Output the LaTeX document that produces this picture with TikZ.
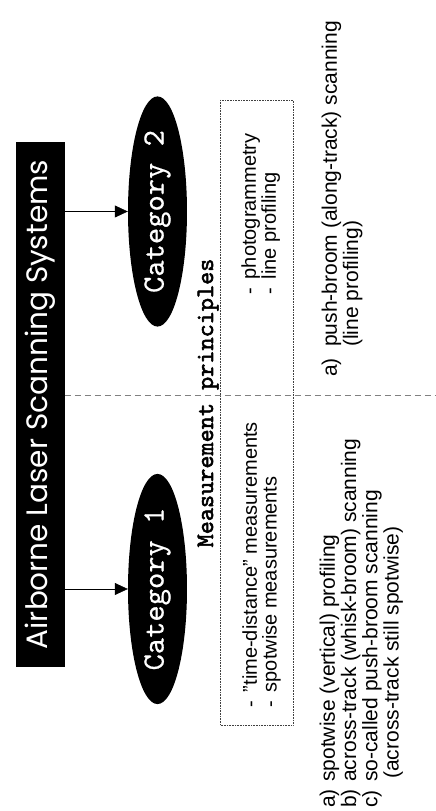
\documentclass[tikz,border=0pt]{standalone}
\usepackage{fontspec}
\setmainfont{Liberation Sans}
\newfontfamily\titlefont{Poppins}
\newfontfamily\catfont{lmmono10-regular.otf}[FakeBold=0.6]
\newfontfamily\headfont{lmmono10-regular.otf}[FakeBold=2.2]
\usetikzlibrary{shapes.geometric,arrows.meta}
\tikzset{
  titlebox/.style={fill=black,text=white,minimum width=525pt,minimum height=49pt,inner sep=0pt,font=\titlefont\fontsize{29.5}{29.5}\selectfont},
  catnode/.style={ellipse,fill=black,text=white,minimum width=222pt,minimum height=59pt,inner sep=0pt,font=\catfont\fontsize{31}{31}\selectfont},
  arr/.style={-{Triangle[length=13pt,width=12pt]},line width=0.6pt},
  divider/.style={gray,line width=0.5pt,dash pattern=on 6pt off 4pt},
  principlebox/.style={draw=black!75,densely dotted,line width=0.6pt,minimum width=625pt,minimum height=73pt,inner sep=0pt},
  listtext/.style={inner sep=0pt,anchor=base west}
}
\begin{document}
\begin{tikzpicture}[x=1pt,y=1pt,rotate=90,transform shape]
  \useasboundingbox(0,0)rectangle(811,436);
  \node[titlebox](title)at(406.5,395.5){Airborne Laser Scanning Systems};
  \node[catnode](cat1)at(222,278.5){Category 1};
  \node[catnode](cat2)at(599.5,278.5){Category 2};
  \coordinate(t1)at(222,371);\coordinate(t2)at(599.5,371);
  \draw[arr](t1)--(cat1.north);
  \draw[arr](t2)--(cat2.north);
  % frame of the measurement principles and the split between the categories
  \node[principlebox](box)at(398.5,179.5){};
  \coordinate(d0)at(416,371);\coordinate(d1)at(416,0);
  \draw[divider](d0)--(d1);
  \node[font=\headfont\fontsize{25}{25}\selectfont,inner sep=0pt,anchor=base](principles)at(408,223){Measurement principles};
  \node[listtext,font=\fontsize{20}{17}\selectfont](meas1)at(103,179){%
    \begin{tabular}[t]{@{}l@{\hspace{9pt}}l@{}}-&"time-distance" measurements\\-&spotwise measurements\end{tabular}};
  \node[listtext,font=\fontsize{20}{18}\selectfont](meas2)at(516,180){%
    \begin{tabular}[t]{@{}l@{\hspace{9pt}}l@{}}-&photogrammetry\\-&line profiling\end{tabular}};
  % scanning modes
  \node[listtext,font=\fontsize{21}{20}\selectfont](scan1)at(3,101){%
    \begin{tabular}[t]{@{}p{26pt}@{}l@{}}a)&spotwise (vertical) profiling\\b)&across-track (whisk-broom) scanning\\
    c)&so-called push-broom scanning\\&\hspace{3pt}(across-track still spotwise)\end{tabular}};
  \node[listtext,font=\fontsize{21}{20}\selectfont](scan2)at(434,99){%
    \begin{tabular}[t]{@{}p{30pt}@{}l@{}}a)&push-broom (along-track) scanning\\&(line profiling)\end{tabular}};
\end{tikzpicture}
\end{document}
